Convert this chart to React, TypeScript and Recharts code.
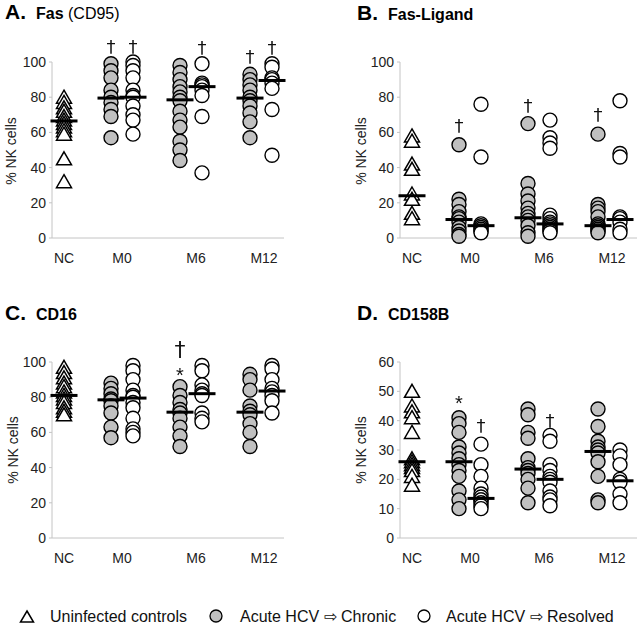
import React from 'react';
import { ScatterChart, Scatter, XAxis, YAxis, ReferenceLine } from 'recharts';

const timepoints = ['NC', 'M0', 'M6', 'M12'];

// A. Fas (CD95)
const fasControls = [80, 77, 74, 72, 69, 67, 65, 63, 61, 59, 45, 32];
const fasChronic = [
  [99, 95, 91, 84, 80, 77, 73, 69, 57],
  [98, 94, 90, 86, 83, 80, 78, 72, 67, 63, 55, 50, 44],
  [93, 90, 87, 84, 80, 78, 75, 71, 66, 57],
];
const fasResolved = [
  [100, 98, 95, 91, 84, 81, 80, 75, 70, 67, 59],
  [99, 88, 87, 86, 84, 81, 69, 37],
  [99, 97, 91, 90, 88, 85, 73, 47],
];
const fasControlMedian = 66.5;
const fasChronicMedians = [79.5, 78.5, 79.5];
const fasResolvedMedians = [80, 86, 89.5];
const fasMarks = [
  { month: 0, group: 'chronic', symbol: '†', y: 109 },
  { month: 0, group: 'resolved', symbol: '†', y: 109 },
  { month: 1, group: 'resolved', symbol: '†', y: 108 },
  { month: 2, group: 'chronic', symbol: '†', y: 103 },
  { month: 2, group: 'resolved', symbol: '†', y: 108 },
];

// B. Fas-Ligand
const faslControls = [58, 55, 42, 39, 25, 22, 14, 11];
const faslChronic = [
  [53, 22, 19, 15, 12, 11, 9, 6, 4, 2, 1],
  [65, 31, 25, 21, 17, 14, 12, 10, 7, 3, 1],
  [59, 19, 17, 15, 12, 8, 7, 6, 5, 4, 3],
];
const faslResolved = [
  [76, 46, 8, 7, 6, 5, 4, 3],
  [67, 57, 54, 51, 13, 11, 9, 8, 7, 6, 5, 4, 3],
  [78, 48, 46, 12, 11, 9, 5, 3],
];
const faslControlMedian = 24;
const faslChronicMedians = [10.5, 11.5, 7];
const faslResolvedMedians = [7, 8, 10.5];
const faslMarks = [
  { month: 0, group: 'chronic', symbol: '†', y: 64 },
  { month: 1, group: 'chronic', symbol: '†', y: 75.5 },
  { month: 2, group: 'chronic', symbol: '†', y: 70 },
];

// C. CD16
const cd16Controls = [97, 94, 91, 88, 86, 83, 81, 79, 77, 74, 72, 70];
const cd16Chronic = [
  [88, 85, 82, 79, 78, 75, 71, 63, 57],
  [86, 81, 77, 73, 71, 68, 63, 58, 52],
  [93, 90, 84, 75, 72, 70, 65, 60, 52],
];
const cd16Resolved = [
  [98, 95, 90, 84, 81, 80, 77, 74, 68, 62, 60, 58],
  [98, 95, 87, 84, 82, 81, 71, 68, 66],
  [98, 96, 90, 85, 83, 81, 78, 71],
];
const cd16ControlMedian = 81;
const cd16ChronicMedians = [78.5, 71.5, 71.5];
const cd16ResolvedMedians = [79.5, 82, 83.5];
const cd16Marks = [
  { month: 1, group: 'chronic', symbol: '*', y: 95 },
  { month: 1, group: 'chronic', symbol: '†', y: 107 },
];

// D. CD158B
const cd158bControls = [50, 45, 43, 41, 36, 27, 26, 25, 24, 23, 21, 18];
const cd158bChronic = [
  [41, 39, 36, 31, 29, 27, 25, 23, 21, 16, 13, 10],
  [44, 42, 36, 34, 27, 24, 23, 22, 20, 17, 12],
  [44, 38, 33, 31, 30, 29, 26, 21, 13, 12],
];
const cd158bResolved = [
  [32, 25, 21, 17, 15, 14, 13, 13, 12, 11, 10],
  [35, 33, 25, 23, 21, 20, 19, 16, 14, 13, 11],
  [30, 28, 25, 20, 19, 15, 12],
];
const cd158bControlMedian = 26;
const cd158bChronicMedians = [26, 23.5, 29.5];
const cd158bResolvedMedians = [13.5, 20, 19.5];
const cd158bMarks = [
  { month: 0, group: 'chronic', symbol: '*', y: 47.5 },
  { month: 0, group: 'resolved', symbol: '†', y: 38.5 },
  { month: 1, group: 'resolved', symbol: '†', y: 40 },
];

// layout (x is in pixels along the axis)
const FONT = '"Liberation Sans", Arial, Helvetica, sans-serif';
const NC_X = 12;
const MONTH_X = [70, 139, 209];
const SPLIT = 11;
const TICK_X = [12, 70, 144, 212];
const AXIS_GREY = '#c4c4c4';
const CHRONIC_FILL = '#c0c0c0';

const groupX = (month: number, group: string) =>
  MONTH_X[month] + (group === 'chronic' ? -SPLIT : SPLIT);

const Triangle = (props: any) => {
  const { cx, cy } = props;
  return (
    <path
      d={`M${cx},${cy - 7} L${cx + 7.5},${cy + 6} L${cx - 7.5},${cy + 6} Z`}
      fill="#fff"
      stroke="#000"
      strokeWidth={1.5}
    />
  );
};

const makeCircle = (fill: string) => (props: any) =>
  <circle cx={props.cx} cy={props.cy} r={7} fill={fill} stroke="#000" strokeWidth={1.4} />;

const MedianBar = (props: any) =>
  <rect x={props.cx - 13.5} y={props.cy - 1.5} width={27} height={3} fill="#000" />;

const Mark = (props: any) => {
  const { cx, cy, payload } = props;
  const star = payload.symbol === '*';
  return (
    <text
      x={cx}
      y={cy}
      textAnchor="middle"
      dominantBaseline="central"
      dy={star ? 4 : 0}
      fontFamily={star ? FONT : '"DejaVu Sans", sans-serif'}
      fontSize={payload.big ? 22 : star ? 20 : 18}
      fill="#111"
      style={{ filter: 'grayscale(1)' }}
    >
      {payload.symbol}
    </text>
  );
};

type PanelProps = {
  left: number;
  top: number;
  right: boolean;
  yMax: number;
  yStep: number;
  controls: number[];
  chronic: number[][];
  resolved: number[][];
  controlMedian: number;
  chronicMedians: number[];
  resolvedMedians: number[];
  marks: { month: number; group: string; symbol: string; y: number }[];
  bigDagger?: boolean;
};

const Panel = (p: PanelProps) => {
  const axisLen = p.right ? 237 : 232;
  const yAxisW = p.right ? 78 : 52;
  const width = 322;
  const height = 290;
  const yTop = p.yMax * 1.25;
  const yTicks: number[] = [];
  for (let v = 0; v <= p.yMax; v += p.yStep) yTicks.push(v);

  const ctrl = p.controls.map((y) => ({ x: NC_X, y }));
  const chr = p.chronic.flatMap((vals, m) => vals.map((y) => ({ x: groupX(m, 'chronic'), y })));
  const res = p.resolved.flatMap((vals, m) => vals.map((y) => ({ x: groupX(m, 'resolved'), y })));
  const medians = [
    { x: NC_X, y: p.controlMedian },
    ...p.chronicMedians.map((y, m) => ({ x: groupX(m, 'chronic'), y })),
    ...p.resolvedMedians.map((y, m) => ({ x: groupX(m, 'resolved'), y })),
  ];
  const marks = p.marks.map((mk) => ({
    x: groupX(mk.month, mk.group),
    y: mk.y,
    symbol: mk.symbol,
    big: p.bigDagger && mk.symbol === '†',
  }));

  return (
    <div style={{ position: 'absolute', left: p.left, top: p.top, width, height }}>
      <ScatterChart
        width={width}
        height={height}
        margin={{ top: 18, right: width - yAxisW - axisLen, bottom: 22, left: 0 }}
      >
        <XAxis
          type="number"
          dataKey="x"
          domain={[0, axisLen]}
          ticks={TICK_X}
          interval={0}
          tickFormatter={(v: number) => timepoints[TICK_X.indexOf(v)]}
          axisLine={{ stroke: AXIS_GREY }}
          tickLine={false}
          tickSize={0}
          tickMargin={15}
          height={30}
          tick={{ fontSize: 14, fontFamily: FONT, fill: '#222' }}
        />
        <YAxis
          type="number"
          dataKey="y"
          domain={[0, yTop]}
          ticks={yTicks}
          interval={0}
          width={yAxisW}
          axisLine={false}
          tickLine={{ stroke: AXIS_GREY }}
          tickSize={3}
          tickMargin={3}
          tick={{ fontSize: 14, fontFamily: FONT, fill: '#222' }}
        />
        <ReferenceLine
          segment={[{ x: 0, y: 0 }, { x: 0, y: p.yMax }]}
          stroke={AXIS_GREY}
          ifOverflow="visible"
        />
        <Scatter data={ctrl} shape={Triangle} isAnimationActive={false} />
        <Scatter data={chr} shape={makeCircle(CHRONIC_FILL)} isAnimationActive={false} />
        <Scatter data={res} shape={makeCircle('#fff')} isAnimationActive={false} />
        <Scatter data={medians} shape={MedianBar} isAnimationActive={false} />
        <Scatter data={marks} shape={Mark} isAnimationActive={false} />
      </ScatterChart>
    </div>
  );
};

const titles = [
  { x: 5, y: 19, letter: 'A.', name: 'Fas', extra: '(CD95)' },
  { x: 357, y: 20, letter: 'B.', name: 'Fas-Ligand', extra: '' },
  { x: 5, y: 320, letter: 'C.', name: 'CD16', extra: '' },
  { x: 357, y: 320, letter: 'D.', name: 'CD158B', extra: '' },
];

const yLabels = [
  { x: 11, y: 151 },
  { x: 361, y: 151 },
  { x: 13, y: 450 },
  { x: 361, y: 450 },
];

const Overlay = () => (
  <svg
    width={644}
    height={627}
    style={{ position: 'absolute', left: 0, top: 0, pointerEvents: 'none' }}
    fontFamily={FONT}
  >
    {titles.map((t) => (
      <g key={t.letter}>
        <text x={t.x} y={t.y} fontSize={21} fontWeight="bold" fill="#000">{t.letter}</text>
        <text x={t.x + 31} y={t.y} fontSize={16} fontWeight="bold" fill="#000">
          {t.name}
          {t.extra ? <tspan fontWeight="normal"> {t.extra}</tspan> : null}
        </text>
      </g>
    ))}
    {yLabels.map((l, i) => (
      <text
        key={i}
        x={l.x}
        y={l.y}
        transform={`rotate(-90, ${l.x}, ${l.y})`}
        textAnchor="middle"
        dominantBaseline="central"
        fontSize={14}
        fill="#222"
      >
        % NK cells
      </text>
    ))}
    <path d="M27,611 L33.5,622 L20.5,622 Z" fill="#fff" stroke="#000" strokeWidth={1.5} />
    <text x={50} y={622} fontSize={16} fill="#111">Uninfected controls</text>
    <circle cx={216} cy={616} r={6} fill={CHRONIC_FILL} stroke="#000" strokeWidth={1.3} />
    <text x={240} y={622} fontSize={16} fill="#111">Acute HCV ⇨ Chronic</text>
    <circle cx={424} cy={616} r={6} fill="#fff" stroke="#000" strokeWidth={1.3} />
    <text x={446} y={622} fontSize={16} fill="#111">Acute HCV ⇨ Resolved</text>
  </svg>
);

export default function App() {
  return (
    <div style={{ position: 'absolute', left: 0, top: 0, width: 644, height: 627, background: '#fff' }}>
      <Panel
        left={0} top={0} right={false} yMax={100} yStep={20}
        controls={fasControls} chronic={fasChronic} resolved={fasResolved}
        controlMedian={fasControlMedian} chronicMedians={fasChronicMedians}
        resolvedMedians={fasResolvedMedians} marks={fasMarks}
      />
      <Panel
        left={322} top={0} right={true} yMax={100} yStep={20}
        controls={faslControls} chronic={faslChronic} resolved={faslResolved}
        controlMedian={faslControlMedian} chronicMedians={faslChronicMedians}
        resolvedMedians={faslResolvedMedians} marks={faslMarks}
      />
      <Panel
        left={0} top={300} right={false} yMax={100} yStep={20}
        controls={cd16Controls} chronic={cd16Chronic} resolved={cd16Resolved}
        controlMedian={cd16ControlMedian} chronicMedians={cd16ChronicMedians}
        resolvedMedians={cd16ResolvedMedians} marks={cd16Marks} bigDagger
      />
      <Panel
        left={322} top={300} right={true} yMax={60} yStep={10}
        controls={cd158bControls} chronic={cd158bChronic} resolved={cd158bResolved}
        controlMedian={cd158bControlMedian} chronicMedians={cd158bChronicMedians}
        resolvedMedians={cd158bResolvedMedians} marks={cd158bMarks}
      />
      <Overlay />
    </div>
  );
}
